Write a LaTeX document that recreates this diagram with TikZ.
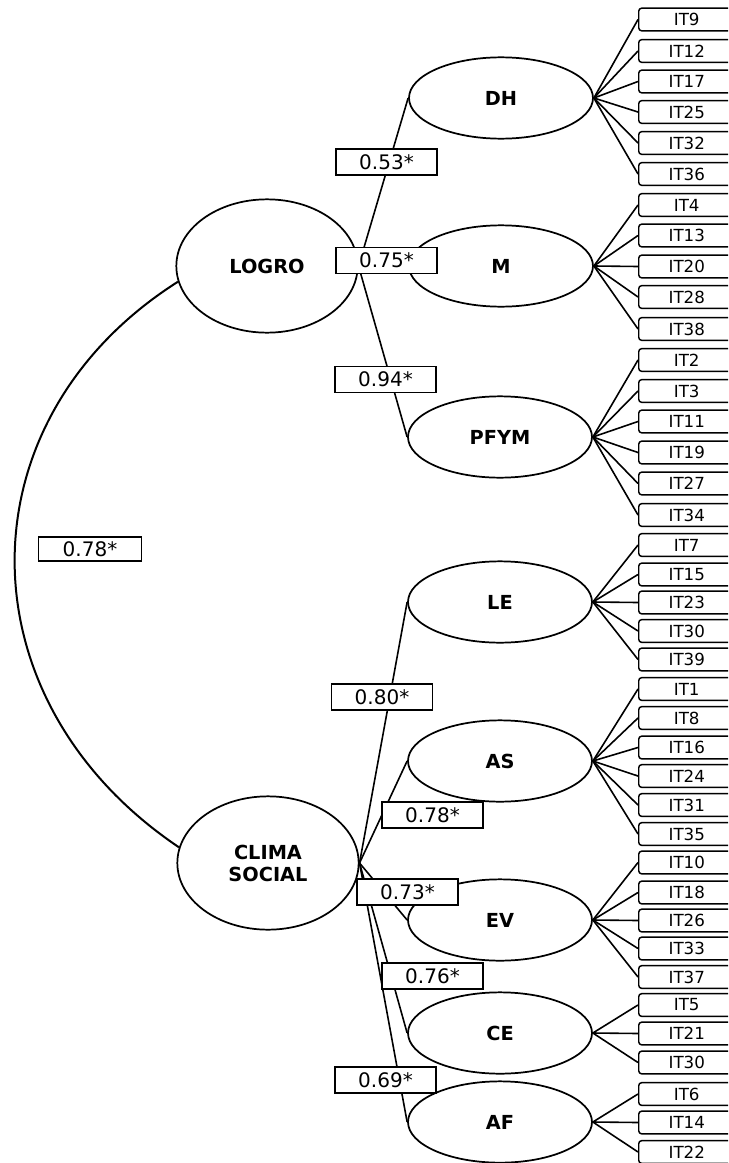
\documentclass[tikz,border=0pt]{standalone}
\usepackage{fontspec}
\setmainfont{DejaVu Sans}
\usetikzlibrary{shapes.geometric}
\tikzset{
  factor/.style={ellipse,draw,fill=white,line width=1.3pt,inner sep=0pt,
    minimum width=138pt,minimum height=61pt,align=center,
    font=\fontsize{14.5}{16.5}\selectfont\bfseries},
  bigfactor/.style={factor,minimum width=136pt,minimum height=100pt},
  item/.style={draw,fill=white,rounded corners=2.2pt,line width=1.1pt,anchor=west,
    minimum width=72pt,minimum height=17pt,inner sep=0pt,
    font=\fontsize{12.5}{14}\selectfont},
  coef/.style={draw,fill=white,line width=1.1pt,minimum width=76pt,minimum height=19.5pt,
    inner sep=0pt,font=\fontsize{15}{17}\selectfont},
  link/.style={line width=1.2pt},
}
\begin{document}
\begin{tikzpicture}[x=0.75pt,y=-0.75pt]
  \useasboundingbox (0,0) rectangle (728,1163);
  \clip (0,0) rectangle (728,1163);
  % second order factors
  \node[bigfactor] (logro) at (267,266) {LOGRO};
  \node[bigfactor] (clima) at (268,863) {CLIMA\\SOCIAL};
  % first order factors
  \node[factor] (dh) at (501,98) {DH};
  \node[factor] (m) at (501,266) {M};
  \node[factor] (pfym) at (500,437) {PFYM};
  \node[factor] (le) at (500,602) {LE};
  \node[factor] (as) at (500,761) {AS};
  \node[factor] (ev) at (500,920) {EV};
  \node[factor] (ce) at (500,1033) {CE};
  \node[factor] (af) at (500,1122) {AF};
  % items
  \foreach \t/\y [count=\k] in {9/19.5,12/51,17/81.5,25/112,32/143,36/174}
    {\node[item] (dh\k) at (638,\y) {IT\t}; \draw[link] (dh.east) -- (dh\k.west);}
  \foreach \t/\y [count=\k] in {4/205,13/235.5,20/266.5,28/297,38/329}
    {\node[item] (m\k) at (638,\y) {IT\t}; \draw[link] (m.east) -- (m\k.west);}
  \foreach \t/\y [count=\k] in {2/360,3/391,11/421.5,19/452.5,27/483.5,34/515}
    {\node[item] (pfym\k) at (638,\y) {IT\t}; \draw[link] (pfym.east) -- (pfym\k.west);}
  \foreach \t/\y [count=\k] in {7/545,15/574.5,23/602.5,30/631,39/659.5}
    {\node[item] (le\k) at (638,\y) {IT\t}; \draw[link] (le.east) -- (le\k.west);}
  \foreach \t/\y [count=\k] in {1/689,8/718,16/747.5,24/776,31/805,35/834}
    {\node[item] (as\k) at (638,\y) {IT\t}; \draw[link] (as.east) -- (as\k.west);}
  \foreach \t/\y [count=\k] in {10/862.5,18/892.5,26/920.5,33/948.5,37/977}
    {\node[item] (ev\k) at (638,\y) {IT\t}; \draw[link] (ev.east) -- (ev\k.west);}
  \foreach \t/\y [count=\k] in {5/1005,21/1033.5,30/1062.5}
    {\node[item] (ce\k) at (638,\y) {IT\t}; \draw[link] (ce.east) -- (ce\k.west);}
  \foreach \t/\y [count=\k] in {6/1094,14/1122.5,22/1152}
    {\node[item] (af\k) at (638,\y) {IT\t}; \draw[link] (af.east) -- (af\k.west);}
  % loadings
  \foreach \f in {dh,m,pfym} \draw[link] (logro.east) -- (\f.west);
  \foreach \f in {le,as,ev,ce,af} \draw[link] (clima.east) -- (\f.west);
  \node[coef] (cdh) at (386.5,162) {0.53*};
  \node[coef] (cm) at (386.5,260.5) {0.75*};
  \node[coef] (cpfym) at (385.5,379.5) {0.94*};
  \node[coef] (cle) at (382,697) {0.80*};
  \node[coef] (cas) at (432.5,815) {0.78*};
  \node[coef] (cev) at (407.5,892) {0.73*};
  \node[coef] (cce) at (432.5,976) {0.76*};
  \node[coef] (caf) at (385.5,1080) {0.69*};
  % correlation
  \draw[line width=1.5pt] (logro.190) .. controls (-40,420) and (-40,700) .. (clima.170);
  \node[coef,minimum width=77pt,minimum height=18pt] (corr) at (90,549) {0.78*};
\end{tikzpicture}
\end{document}
